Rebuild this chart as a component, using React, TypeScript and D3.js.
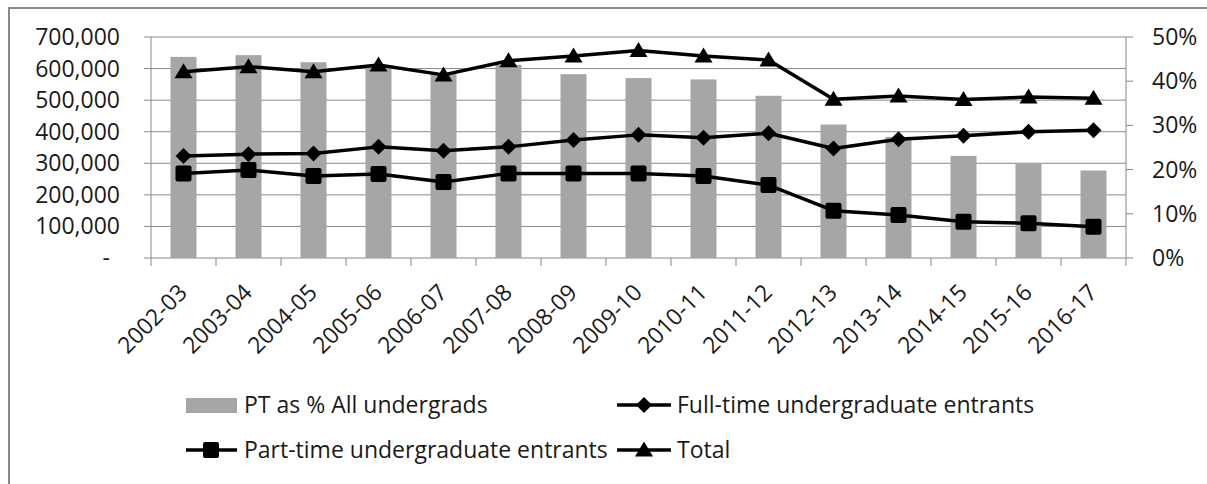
import React from 'react';
import * as d3 from 'd3';

const categories = ['2002-03','2003-04','2004-05','2005-06','2006-07','2007-08','2008-09','2009-10','2010-11','2011-12','2012-13','2013-14','2014-15','2015-16','2016-17'];
const ptSharePct = [45.5,45.9,44.3,43.3,41.6,43.7,41.6,40.7,40.4,36.7,30.2,27.4,23.1,21.4,19.8];
const fullTime = [323000,329000,331000,352000,340000,352000,374000,390000,381000,395000,347000,376000,387000,400000,405000];
const partTime = [268000,279000,260000,266000,241000,268000,268000,268000,260000,231000,150000,136000,115000,110000,99000];
const total = [590000,606000,590000,611000,580000,625000,640000,657000,640000,627000,503000,513000,502000,510000,506000];
const leftTicks = [0,100000,200000,300000,400000,500000,600000,700000];
const rightTicks = [0,0.1,0.2,0.3,0.4,0.5];

const W = 1207, H = 484;
const plotL = 151, plotR = 1126, plotT = 37, plotB = 258;
const FONT = '"Open Sans", sans-serif';
const FS = 23;
const TXT = '#1a1a1a';
const GRID = '#888';

type MarkerKind = 'diamond' | 'square' | 'triangle';

function Marker({ kind, x, y }: { kind: MarkerKind; x: number; y: number }) {
  if (kind === 'diamond') {
    const s = 8;
    return <path d={`M${x},${y - s}L${x + s},${y}L${x},${y + s}L${x - s},${y}Z`} fill="#000" />;
  }
  if (kind === 'square') {
    return <rect x={x - 8} y={y - 8} width={16} height={16} rx={2} fill="#000" />;
  }
  return <path d={`M${x},${y - 8.5}L${x + 9},${y + 6.5}L${x - 9},${y + 6.5}Z`} fill="#000" />;
}

export default function App() {
  const x = d3.scaleBand<string>().domain(categories).range([plotL, plotR]).padding(0);
  const yL = d3.scaleLinear().domain([0, 700000]).range([plotB, plotT]);
  const yR = d3.scaleLinear().domain([0, 0.5]).range([plotB, plotT]);
  const bw = x.bandwidth();
  const barW = bw * 0.4;
  const cx = (c: string) => (x(c) as number) + bw / 2;
  const fmtL = (v: number) => (v === 0 ? '-' : d3.format(',')(v));
  const fmtR = d3.format('.0%');

  const lineGen = d3.line<number>().x((_, i) => cx(categories[i])).y((v) => yL(v));

  const series: { vals: number[]; kind: MarkerKind }[] = [
    { vals: fullTime, kind: 'diamond' },
    { vals: partTime, kind: 'square' },
    { vals: total, kind: 'triangle' },
  ];

  const boundaries = [...categories.map((c) => x(c) as number), plotR];

  return (
    <div style={{ position: 'fixed', left: 0, top: 0, width: W, height: H, overflow: 'hidden', background: '#fff' }}>
      <svg width={W} height={H} style={{ display: 'block' }} fontFamily={FONT}>
        <rect x={0} y={0} width={W} height={H} fill="#fff" />
        <rect x={9} y={8} width={W + 20} height={H + 20} fill="none" stroke={GRID} strokeWidth={2} />

        {leftTicks.map((t) => (
          <line key={'g' + t} x1={plotL - 7} x2={plotR} y1={yL(t)} y2={yL(t)} stroke={GRID} strokeWidth={1} />
        ))}
        {rightTicks.map((t) => (
          <line key={'rt' + t} x1={plotR} x2={plotR + 7} y1={yR(t)} y2={yR(t)} stroke={GRID} strokeWidth={1} />
        ))}
        {boundaries.map((b, i) => (
          <line key={'xt' + i} x1={b} x2={b} y1={plotB} y2={plotB + 8} stroke={GRID} strokeWidth={1} />
        ))}
        <line x1={plotL} x2={plotL} y1={plotT} y2={plotB} stroke={GRID} strokeWidth={1} />
        <line x1={plotR} x2={plotR} y1={plotT} y2={plotB} stroke={GRID} strokeWidth={1} />

        {categories.map((c, i) => (
          <rect key={'b' + c} x={cx(c) - barW / 2} y={yR(ptSharePct[i] / 100)} width={barW} height={plotB - yR(ptSharePct[i] / 100)} fill="#a6a6a6" />
        ))}

        {series.map((s, si) => (
          <g key={'s' + si}>
            <path d={lineGen(s.vals) as string} fill="none" stroke="#000" strokeWidth={3.5} strokeLinejoin="round" />
            {s.vals.map((v, i) => (
              <Marker key={i} kind={s.kind} x={cx(categories[i])} y={yL(v)} />
            ))}
          </g>
        ))}

        {leftTicks.map((t) => (
          <text key={'ll' + t} x={t === 0 ? 110 : 120} y={yL(t)} dy="0.35em" textAnchor="end" fontSize={FS} fill={TXT}>
            {fmtL(t)}
          </text>
        ))}
        {rightTicks.map((t) => (
          <text key={'rl' + t} x={1152} y={yR(t)} dy="0.35em" textAnchor="start" fontSize={FS} fill={TXT}>
            {fmtR(t)}
          </text>
        ))}
        {categories.map((c) => (
          <text key={'xl' + c} transform={`translate(${cx(c) + 5},${294}) rotate(-45)`} textAnchor="end" fontSize={FS} fill={TXT}>
            {c}
          </text>
        ))}

        <g fontSize={FS} fill={TXT}>
          <rect x={186} y={398} width={51} height={15} fill="#a6a6a6" />
          <text x={244} y={405} dy="0.35em">PT as % All undergrads</text>

          <line x1={617} x2={671} y1={405} y2={405} stroke="#000" strokeWidth={3.5} />
          <Marker kind="diamond" x={644} y={405} />
          <text x={677} y={405} dy="0.35em">Full-time undergraduate entrants</text>

          <line x1={186} x2={237} y1={450} y2={450} stroke="#000" strokeWidth={3.5} />
          <Marker kind="square" x={211} y={450} />
          <text x={244} y={450} dy="0.35em">Part-time undergraduate entrants</text>

          <line x1={617} x2={671} y1={450} y2={450} stroke="#000" strokeWidth={3.5} />
          <Marker kind="triangle" x={644} y={450} />
          <text x={677} y={450} dy="0.35em">Total</text>
        </g>
      </svg>
    </div>
  );
}
